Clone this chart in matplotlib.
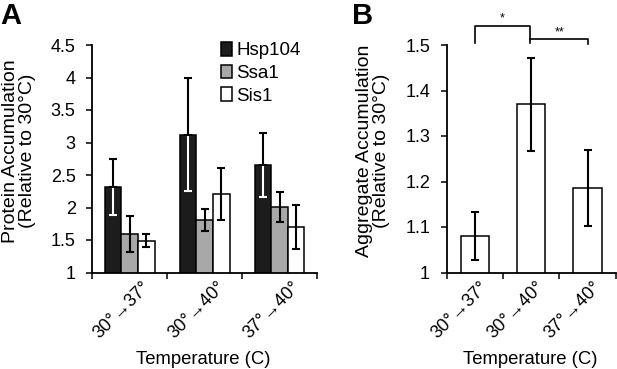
import numpy as np
import matplotlib
matplotlib.use("Agg")
import matplotlib.pyplot as plt
import matplotlib.transforms as mtransforms

plt.rcParams['font.family'] = ['Liberation Sans', 'DejaVu Sans']

# ---- data ----
categories = ["30°→37°", "30°→40°", "37°→40°"]
series_names = ["Hsp104", "Ssa1", "Sis1"]
hsp104 = [2.32, 3.12, 2.65]
hsp104_err = [0.43, 0.87, 0.49]
ssa1 = [1.59, 1.81, 2.01]
ssa1_err = [0.28, 0.17, 0.23]
sis1 = [1.49, 2.21, 1.70]
sis1_err = [0.095, 0.405, 0.335]

agg = [1.08, 1.37, 1.186]
agg_err = [0.052, 0.102, 0.083]

yticks_a = [1, 1.5, 2, 2.5, 3, 3.5, 4, 4.5]
yticklabels_a = ["1", "1.5", "2", "2.5", "3", "3.5", "4", "4.5"]
yticks_b = [1, 1.1, 1.2, 1.3, 1.4, 1.5]
yticklabels_b = ["1", "1.1", "1.2", "1.3", "1.4", "1.5"]

W, H = 617, 369
fig = plt.figure(figsize=(W / 100, H / 100), dpi=100)

def px_axes(l, r, t, b):
    return fig.add_axes([l / W, 1 - b / H, (r - l) / W, (b - t) / H])

axA = px_axes(92.3, 317, 45, 272.5)
axB = px_axes(446.7, 615.7, 45, 272.5)

colors = ["#1c1c1c", "#a8a8a8", "#ffffff"]
bw = 0.222
x = np.arange(len(categories))
edge_lw = 1.1
elw = 1.5
cap = 2.6

series = [(hsp104, hsp104_err), (ssa1, ssa1_err), (sis1, sis1_err)]
handles = []
for i, ((vals, errs), c, name) in enumerate(zip(series, colors, series_names)):
    xs = x + (i - 1) * bw
    b = axA.bar(xs, vals, bw, color=c, edgecolor="black", linewidth=edge_lw,
                label=name, zorder=2)
    handles.append(b)
    vals = np.array(vals); errs = np.array(errs); z = np.zeros_like(errs)
    if i == 0:
        axA.errorbar(xs, vals, yerr=[errs, z], fmt="none", ecolor="white",
                     elinewidth=elw, capsize=cap, capthick=elw, zorder=3)
        axA.errorbar(xs, vals, yerr=[z, errs], fmt="none", ecolor="black",
                     elinewidth=elw, capsize=cap, capthick=elw, zorder=4)
    else:
        axA.errorbar(xs, vals, yerr=errs, fmt="none", ecolor="black",
                     elinewidth=elw, capsize=cap, capthick=elw, zorder=4)

axB.bar(x, agg, 0.5, color="white", edgecolor="black", linewidth=edge_lw, zorder=2)
axB.errorbar(x, agg, yerr=agg_err, fmt="none", ecolor="black",
             elinewidth=elw, capsize=cap + 0.3, capthick=elw, zorder=3)

tick_fs = 13
for ax, yt, ytl, ylim, dx in [(axA, yticks_a, yticklabels_a, (1, 4.5), -8),
                              (axB, yticks_b, yticklabels_b, (1, 1.5), -15)]:
    ax.set_xlim(-0.5, 2.5)
    ax.set_ylim(*ylim)
    ax.set_yticks(yt)
    ax.set_yticklabels(ytl, fontsize=tick_fs)
    ax.set_xticks([-0.5, 0.5, 1.5, 2.5])
    ax.set_xticklabels([])
    ax.set_xticks(x, minor=True)
    ax.tick_params(axis="x", which="minor", length=0, pad=4)
    ax.tick_params(axis="both", which="major", direction="out", length=4,
                   width=1.1, color="black")
    ax.tick_params(axis="y", pad=8)
    ax.set_xticklabels(categories, minor=True, rotation=45, ha="center",
                       va="top", fontsize=13)
    offset = mtransforms.ScaledTranslation(dx / 100, 0, fig.dpi_scale_trans)
    for lab in ax.get_xticklabels(minor=True):
        lab.set_transform(lab.get_transform() + offset)
    for s in ["top", "right"]:
        ax.spines[s].set_visible(False)
    for s in ["left", "bottom"]:
        ax.spines[s].set_linewidth(1.3)
    ax.set_xlabel("Temperature (C)", fontsize=13.3)
    ax.xaxis.set_label_coords(0.493, -0.345)

axA.set_ylabel("Protein Accumulation\n(Relative to 30°C)", fontsize=14,
               linespacing=1.0)
axA.yaxis.set_label_coords(-0.252, 0.535)
axB.set_ylabel("Aggregate Accumulation\n(Relative to 30°C)", fontsize=14,
               linespacing=1.0)
axB.yaxis.set_label_coords(-0.335, 0.535)

leg = axA.legend(handles=handles, labels=series_names, loc="upper left",
                 bbox_to_anchor=(221 / W, 1 - 42 / H),
                 bbox_transform=fig.transFigure, frameon=False, fontsize=13.5,
                 handlelength=0.6, handleheight=0.75, handletextpad=0.2,
                 labelspacing=0.28, borderpad=0, borderaxespad=0)

# significance brackets (annotation positions in data coords of panel B)
bk = dict(color="black", lw=1.2, clip_on=False)
axB.plot([0, 0, 0.98, 0.98], [1.505, 1.542, 1.542, 1.505], **bk)
axB.plot([0.98, 2.01, 2.01], [1.5125, 1.5125, 1.5015], **bk)
axB.text(0.49, 1.545, "*", ha="center", va="bottom", fontsize=9, clip_on=False)
axB.text(1.5, 1.515, "**", ha="center", va="bottom", fontsize=9, clip_on=False)

fig.text(0 / W, 1 - 2 / H, "A", fontsize=21, fontweight="bold", ha="left", va="top")
fig.text(352 / W, 1 - 2 / H, "B", fontsize=21, fontweight="bold", ha="left", va="top")

fig.savefig("out.png", dpi=100)
